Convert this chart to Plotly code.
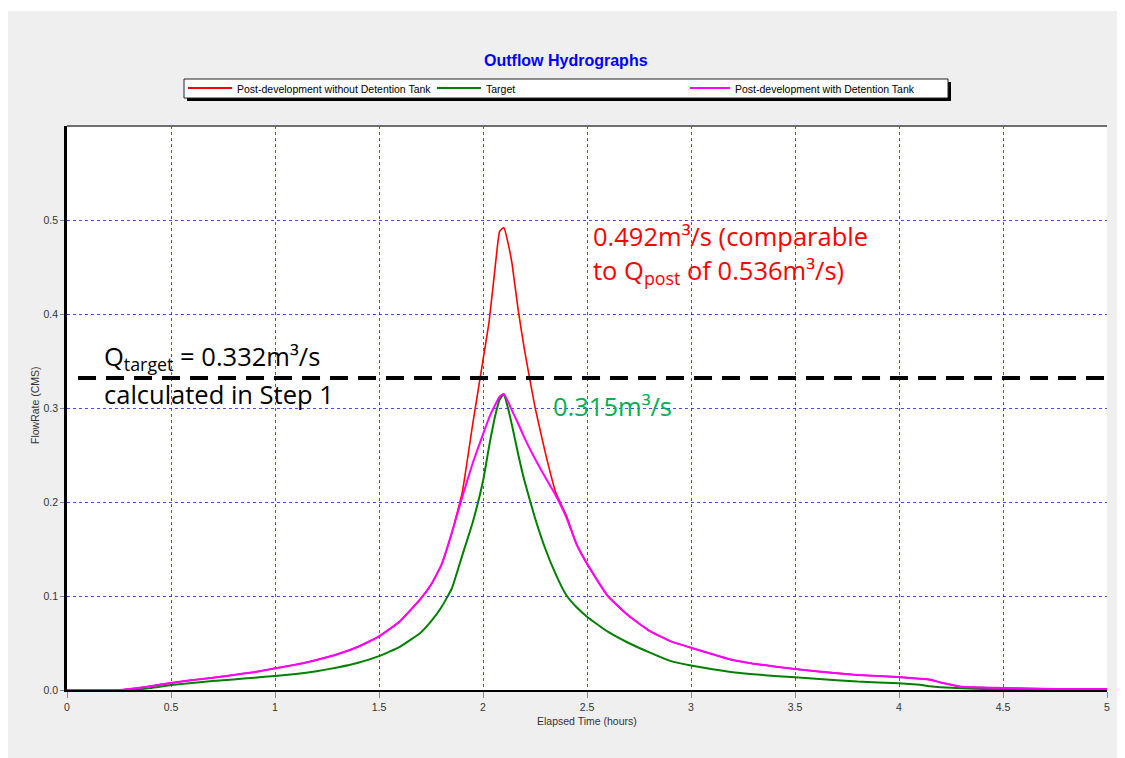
import plotly.graph_objects as go

# ---------------- data ----------------
time_h = [0, 0.25, 0.3, 0.4, 0.5, 0.6, 0.7, 0.8, 0.9, 1.0, 1.1, 1.2, 1.3, 1.4, 1.5,
          1.6, 1.7, 1.75, 1.8, 1.85, 1.9, 1.95, 2.0, 2.03, 2.06, 2.08, 2.1, 2.12,
          2.14, 2.17, 2.2, 2.25, 2.3, 2.35, 2.4, 2.45, 2.5, 2.6, 2.7, 2.8, 2.9, 3.0,
          3.2, 3.4, 3.6, 3.8, 4.0, 4.1, 4.15, 4.2, 4.3, 4.5, 4.75, 5.0]

post_without_tank = [0, 0, 0.001, 0.004, 0.0075, 0.0105, 0.013, 0.016, 0.019, 0.023,
                     0.027, 0.032, 0.038, 0.046, 0.057, 0.073, 0.097, 0.112, 0.133,
                     0.167, 0.210, 0.282, 0.351, 0.393, 0.453, 0.488, 0.492, 0.476,
                     0.453, 0.403, 0.361, 0.301, 0.252, 0.210, 0.186, 0.155, 0.135,
                     0.100, 0.079, 0.063, 0.052, 0.045, 0.032, 0.025, 0.020, 0.016,
                     0.0137, 0.012, 0.011, 0.008, 0.0035, 0.0022, 0.001, 0.001]

target = [0, 0, 0, 0.002, 0.0053, 0.0075, 0.0095, 0.0113, 0.013, 0.015, 0.017, 0.020,
          0.024, 0.029, 0.036, 0.046, 0.061, 0.073, 0.088, 0.108, 0.143, 0.178, 0.222,
          0.260, 0.293, 0.309, 0.315, 0.300, 0.281, 0.250, 0.222, 0.183, 0.150, 0.123,
          0.101, 0.088, 0.078, 0.062, 0.050, 0.040, 0.031, 0.026, 0.019, 0.015, 0.012,
          0.009, 0.0072, 0.0055, 0.004, 0.003, 0.0018, 0.0005, 0, 0]

post_with_tank = [0, 0, 0.001, 0.004, 0.0075, 0.0105, 0.013, 0.016, 0.019, 0.023,
                  0.027, 0.032, 0.038, 0.046, 0.057, 0.073, 0.097, 0.112, 0.133, 0.167,
                  0.205, 0.241, 0.272, 0.290, 0.304, 0.312, 0.315, 0.307, 0.297, 0.283,
                  0.268, 0.246, 0.226, 0.207, 0.184, 0.155, 0.134, 0.100, 0.079, 0.063,
                  0.052, 0.045, 0.032, 0.025, 0.020, 0.016, 0.0137, 0.012, 0.011, 0.008,
                  0.0035, 0.0022, 0.001, 0.001]

q_target = 0.332
q_target_span = [0.053, 5.0]

x_ticks = [0, 0.5, 1, 1.5, 2, 2.5, 3, 3.5, 4, 4.5, 5]
y_ticks = [0.0, 0.1, 0.2, 0.3, 0.4, 0.5]

series_names = ["Post-development without Detention Tank", "Target",
                "Post-development with Detention Tank"]
series_colors = ["#ff0000", "#008000", "#ff00ff"]

# ---------------- geometry helpers (screen pixels; page body has an 8px margin) ----------------
OFF = 8
W, H = 1125 - OFF, 758 - OFF
SL, SR, ST, SB = 67, 1107, 126, 690   # plot area in screen pixels


def px(x):
    return (x - SL) / (SR - SL)


def py(y):
    return (SB - y) / (SB - ST)


fig = go.Figure()

fig.add_trace(go.Scatter(x=time_h, y=post_without_tank, mode="lines",
                         line=dict(color=series_colors[0], width=1.6, shape="spline", smoothing=0.4),
                         name=series_names[0], showlegend=False))
fig.add_trace(go.Scatter(x=time_h, y=target, mode="lines",
                         line=dict(color=series_colors[1], width=2, shape="spline", smoothing=0.4),
                         name=series_names[1], showlegend=False))
fig.add_trace(go.Scatter(x=time_h, y=post_with_tank, mode="lines",
                         line=dict(color=series_colors[2], width=2, shape="spline", smoothing=0.4),
                         name=series_names[2], showlegend=False))
fig.add_trace(go.Scatter(x=q_target_span, y=[q_target, q_target], mode="lines",
                         line=dict(color="black", width=4, dash="18px,10px"),
                         showlegend=False, hoverinfo="skip"))

small_family = "Liberation Sans, Arial, sans-serif"
tick_font = dict(family=small_family, size=10.5, color="#333333")
grid_col = "rgba(40,40,255,0.85)"

fig.update_xaxes(range=[0, 5], tickvals=x_ticks, ticktext=[f"{v:g}" for v in x_ticks],
                 showgrid=True, gridcolor=grid_col, gridwidth=1, griddash="dot",
                 zeroline=False, showline=True, linecolor="black", linewidth=2,
                 ticks="outside", ticklen=6, tickcolor="#888888", tickwidth=1,
                 tickfont=tick_font)
fig.update_yaxes(range=[0, 0.6], tickvals=y_ticks, ticktext=[f"{v:.1f}" for v in y_ticks],
                 showgrid=True, gridcolor=grid_col, gridwidth=1, griddash="dot",
                 zeroline=False, showline=True, linecolor="black", linewidth=2.5,
                 ticks="outside", ticklen=4, tickcolor="#888888", tickwidth=1,
                 tickfont=tick_font)

shapes = [
    # thin white strip at the very top of the gray panel
    dict(type="rect", xref="paper", yref="paper", x0=px(0), x1=px(1130), y0=py(11), y1=py(0),
         fillcolor="white", line=dict(width=0), layer="below"),
    # top border of plot frame
    dict(type="line", xref="paper", yref="paper", x0=0, x1=1, y0=1, y1=1,
         line=dict(color="#6e6e6e", width=2), layer="above"),
    # legend shadow and box
    dict(type="rect", xref="paper", yref="paper", x0=px(187), x1=px(951), y0=py(101), y1=py(82),
         fillcolor="black", line=dict(width=0)),
    dict(type="rect", xref="paper", yref="paper", x0=px(184), x1=px(948), y0=py(98), y1=py(79),
         fillcolor="white", line=dict(color="#222222", width=1)),
]

legend_items = [(188, 232, 235), (437, 481, 484), (690, 730, 733)]
annotations = []
for (x0, x1, xt), name, col in zip(legend_items, series_names, series_colors):
    shapes.append(dict(type="line", xref="paper", yref="paper", x0=px(x0), x1=px(x1),
                       y0=py(88), y1=py(88), line=dict(color=col, width=2)))
    annotations.append(dict(xref="paper", yref="paper", x=px(xt), y=py(88.5), text=name,
                            showarrow=False, xanchor="left", yanchor="middle",
                            font=dict(family=small_family, size=10.5, color="black")))

big_font = "Open Sans, Lato, sans-serif"
big_size = 25.5
annotations += [
    dict(xref="paper", yref="paper", x=px(566), y=py(60), text="<b>Outflow Hydrographs</b>",
         showarrow=False, xanchor="center", yanchor="middle",
         font=dict(family=small_family, size=16, color="#0000ff")),
    dict(xref="paper", yref="paper", x=px(587), y=py(721), text="Elapsed Time (hours)",
         showarrow=False, xanchor="center", yanchor="middle",
         font=dict(family=small_family, size=10.5, color="#333333")),
    dict(xref="paper", yref="paper", x=px(35), y=py(405), text="FlowRate (CMS)", textangle=-90,
         showarrow=False, xanchor="center", yanchor="middle",
         font=dict(family=small_family, size=10.5, color="#333333")),
    dict(xref="paper", yref="paper", x=px(102), y=py(357),
         text="Q<sub>target</sub> = 0.332m³/s",
         showarrow=False, xanchor="left", yanchor="middle",
         font=dict(family=big_font, size=big_size, color="black")),
    dict(xref="paper", yref="paper", x=px(102), y=py(394), text="calculated in Step 1",
         showarrow=False, xanchor="left", yanchor="middle",
         font=dict(family=big_font, size=big_size, color="black")),
    dict(xref="paper", yref="paper", x=px(591), y=py(236),
         text="0.492m³/s (comparable",
         showarrow=False, xanchor="left", yanchor="middle",
         font=dict(family=big_font, size=big_size, color="#ff0000")),
    dict(xref="paper", yref="paper", x=px(591), y=py(271),
         text="to Q<sub>post</sub> of 0.536m³/s)",
         showarrow=False, xanchor="left", yanchor="middle",
         font=dict(family=big_font, size=big_size, color="#ff0000")),
    dict(xref="paper", yref="paper", x=px(551), y=py(406),
         text="0.315m³/s",
         showarrow=False, xanchor="left", yanchor="middle",
         font=dict(family=big_font, size=big_size, color="#00b050")),
]

fig.update_layout(width=W, height=H,
                  margin=dict(l=SL - OFF, r=W - (SR - OFF), t=ST - OFF, b=H - (SB - OFF)),
                  paper_bgcolor="#efefef", plot_bgcolor="white",
                  shapes=shapes, annotations=annotations, showlegend=False)

fig.write_html("out.html")
